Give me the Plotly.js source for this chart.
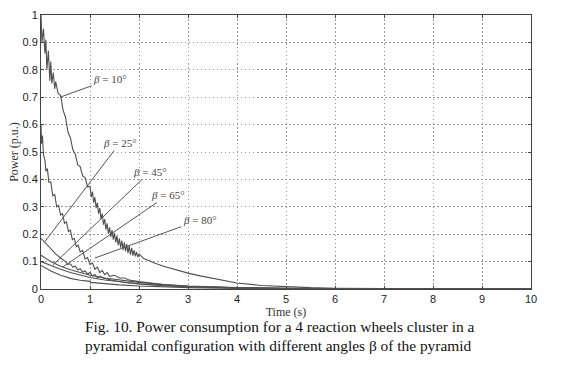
<!DOCTYPE html>
<html>
<head>
<meta charset="utf-8">
<script src="https://cdn.plot.ly/plotly-3.0.1.min.js"></script>
<style>html,body{margin:0;padding:0;background:#fff;}#chart{width:572px;height:373px;}</style>
</head>
<body>
<div id="chart"></div>
<script>
// Power (p.u.) vs Time (s)
const t10 = [0,0.02,0.05,0.08,0.10,0.12,0.15,0.18,0.20,0.22,0.25,0.28,0.30,0.35,0.40,0.45,0.50,0.55,0.60,0.65,0.70,0.75,0.80,0.85,0.90,0.95,
  1.000,1.025,1.050,1.075,1.100,1.125,1.150,1.175,1.200,1.225,1.250,1.275,1.300,1.325,1.350,1.375,1.400,1.425,1.450,1.475,1.500,
  1.525,1.550,1.575,1.600,1.625,1.650,1.675,1.700,1.725,1.750,1.775,1.800,1.825,1.850,1.875,1.900,1.925,1.950,1.975,2.000,
  2.10,2.20,2.30,2.50,2.75,3.00,3.25,3.50,3.75,4.00,4.50,5.00,5.50,6.00,7.00,8.00,10.00];
const p10 = [1.0,0.90,0.95,0.86,0.91,0.80,0.87,0.76,0.83,0.75,0.79,0.73,0.757,0.713,0.707,0.653,0.627,0.573,0.552,0.508,0.492,0.453,0.447,0.413,0.407,0.373,
  0.375,0.335,0.355,0.315,0.335,0.295,0.315,0.275,0.295,0.255,0.275,0.235,0.255,0.217,0.240,0.202,0.225,0.190,0.215,0.180,0.205,
  0.170,0.195,0.160,0.185,0.151,0.177,0.143,0.170,0.137,0.164,0.131,0.158,0.125,0.150,0.122,0.142,0.119,0.135,0.116,0.128,
  0.110,0.104,0.096,0.083,0.07,0.058,0.048,0.039,0.03,0.022,0.013,0.008,0.005,0.003,0.001,0.0005,0];

const t25 = [0,0.01,0.03,0.05,0.08,0.10,0.13,0.16,0.20,0.24,0.28,0.32,0.36,0.40,0.44,0.48,0.52,0.56,0.60,0.64,0.68,0.72,0.76,0.80,0.85,0.90,0.95,1.00,1.05,1.10,1.15,1.20,1.25,1.30,1.35,1.40,1.50,1.60,1.70,1.80,2.00,2.20,2.50,3.00,3.50,4.00,5.00,6.00,10.00];
const p25 = [0.60,0.53,0.56,0.49,0.47,0.43,0.44,0.39,0.39,0.34,0.345,0.30,0.305,0.27,0.275,0.24,0.245,0.21,0.215,0.18,0.185,0.155,0.16,0.135,0.14,0.11,0.115,0.09,0.095,0.072,0.08,0.06,0.068,0.052,0.06,0.046,0.05,0.04,0.04,0.033,0.027,0.022,0.016,0.01,0.006,0.004,0.002,0.001,0];

const tA = [0,0.10,0.20,0.30,0.40,0.50,0.55,0.60,0.65,0.70,0.75,0.80,0.85,0.90,0.95,1.00,1.05,1.10,1.15,1.20,1.30,1.50,1.75,2.00,2.50,3.00,4.00,5.00,6.00,10.00];
const pA = [0.185,0.165,0.145,0.128,0.113,0.10,0.09,0.092,0.08,0.083,0.07,0.074,0.062,0.066,0.055,0.06,0.048,0.052,0.042,0.046,0.038,0.03,0.023,0.018,0.012,0.008,0.004,0.002,0.001,0];

const tC = [0,0.20,0.40,0.60,0.80,1.00,1.30,1.60,2.00,2.50,3.00,4.00,5.00,6.00,10.00];
const pC = [0.123,0.10,0.083,0.07,0.06,0.05,0.04,0.032,0.024,0.016,0.011,0.005,0.002,0.001,0];

const tD = [0,0.20,0.40,0.60,0.80,1.00,1.30,1.60,2.00,2.50,3.00,4.00,5.00,10.00];
const pD = [0.10,0.085,0.072,0.06,0.05,0.042,0.033,0.026,0.019,0.013,0.009,0.004,0.002,0];

const tE = [0,0.20,0.40,0.62,0.80,1.00,1.01,1.30,1.60,2.00,2.50,3.00,4.00,5.00,10.00];
const pE = [0.086,0.066,0.05,0.038,0.032,0.028,0.024,0.019,0.015,0.011,0.008,0.005,0.002,0.001,0];

const labels = ["β = 10°","β = 25°","β = 45°","β = 65°","β = 80°"];
const labelT = [1.41,1.61,2.22,2.59,3.24];
const labelP = [0.766,0.533,0.427,0.343,0.252];
const tipT = [0.39,0.08,0.245,0.45,1.1];
const tipP = [0.70,0.173,0.088,0.081,0.113];

const captionLines = [
  'Fig. 10. Power consumption for a 4 reaction wheels cluster in a',
  'pyramidal configuration with different angles β of the pyramid'
];

const xTicks = [0,1,2,3,4,5,6,7,8,9,10];
const yTicks = [0,0.1,0.2,0.3,0.4,0.5,0.6,0.7,0.8,0.9,1];

const series = [[t10,p10],[t25,p25],[tA,pA],[tC,pC],[tD,pD],[tE,pE]];
const traces = series.map(s => ({
  x: s[0], y: s[1], type: 'scatter', mode: 'lines',
  line: {color: '#505050', width: 1.1}, showlegend: false, hoverinfo: 'skip'
}));

const serif = 'Liberation Serif, Times New Roman, serif';
const annotations = labels.map((txt, i) => ({
  x: tipT[i], y: tipP[i], xref: 'x', yref: 'y',
  ax: labelT[i], ay: labelP[i], axref: 'x', ayref: 'y',
  text: txt.replace('β', '<i>β</i>'),
  showarrow: true, arrowhead: 0, arrowwidth: 1, arrowcolor: '#555', standoff: 0,
  font: {family: serif, size: 11, color: '#444'}
}));
const captionY = [-0.137, -0.206];
captionLines.forEach((line, i) => annotations.push({
  xref: 'paper', yref: 'paper', x: 0.0857, y: captionY[i], xanchor: 'left', yanchor: 'middle', align: 'left',
  showarrow: false, text: line,
  font: {family: serif, size: 15.4, color: '#111'}
}));

const tickFont = {family: 'Liberation Sans, Arial, sans-serif', size: 11, color: '#222'};
const layout = {
  width: 572, height: 373,
  margin: {l: 41, r: 41, t: 15, b: 84},
  paper_bgcolor: '#fff', plot_bgcolor: '#fff',
  showlegend: false,
  xaxis: {
    range: [0, 10], tickvals: xTicks, ticktext: xTicks.map(String),
    showgrid: true, gridcolor: '#999', griddash: '1.5px,2.5px', gridwidth: 1,
    zeroline: false, showline: true, mirror: 'ticks', linecolor: '#444', linewidth: 1,
    ticks: 'inside', ticklen: 3, tickcolor: '#444',
    tickfont: tickFont,
    title: {text: 'Time (s)', font: {family: serif, size: 12, color: '#333'}, standoff: 3}
  },
  yaxis: {
    range: [0, 1], tickvals: yTicks, ticktext: yTicks.map(String),
    showgrid: true, gridcolor: '#999', griddash: '1.5px,2.5px', gridwidth: 1,
    zeroline: false, showline: true, mirror: 'ticks', linecolor: '#444', linewidth: 1,
    ticks: 'inside', ticklen: 3, tickcolor: '#444',
    tickfont: tickFont,
    title: {text: 'Power (p.u.)', font: {family: serif, size: 12, color: '#333'}, standoff: 1}
  },
  annotations: annotations
};

Plotly.newPlot('chart', traces, layout, {displayModeBar: false, staticPlot: true});
</script>
</body>
</html>
